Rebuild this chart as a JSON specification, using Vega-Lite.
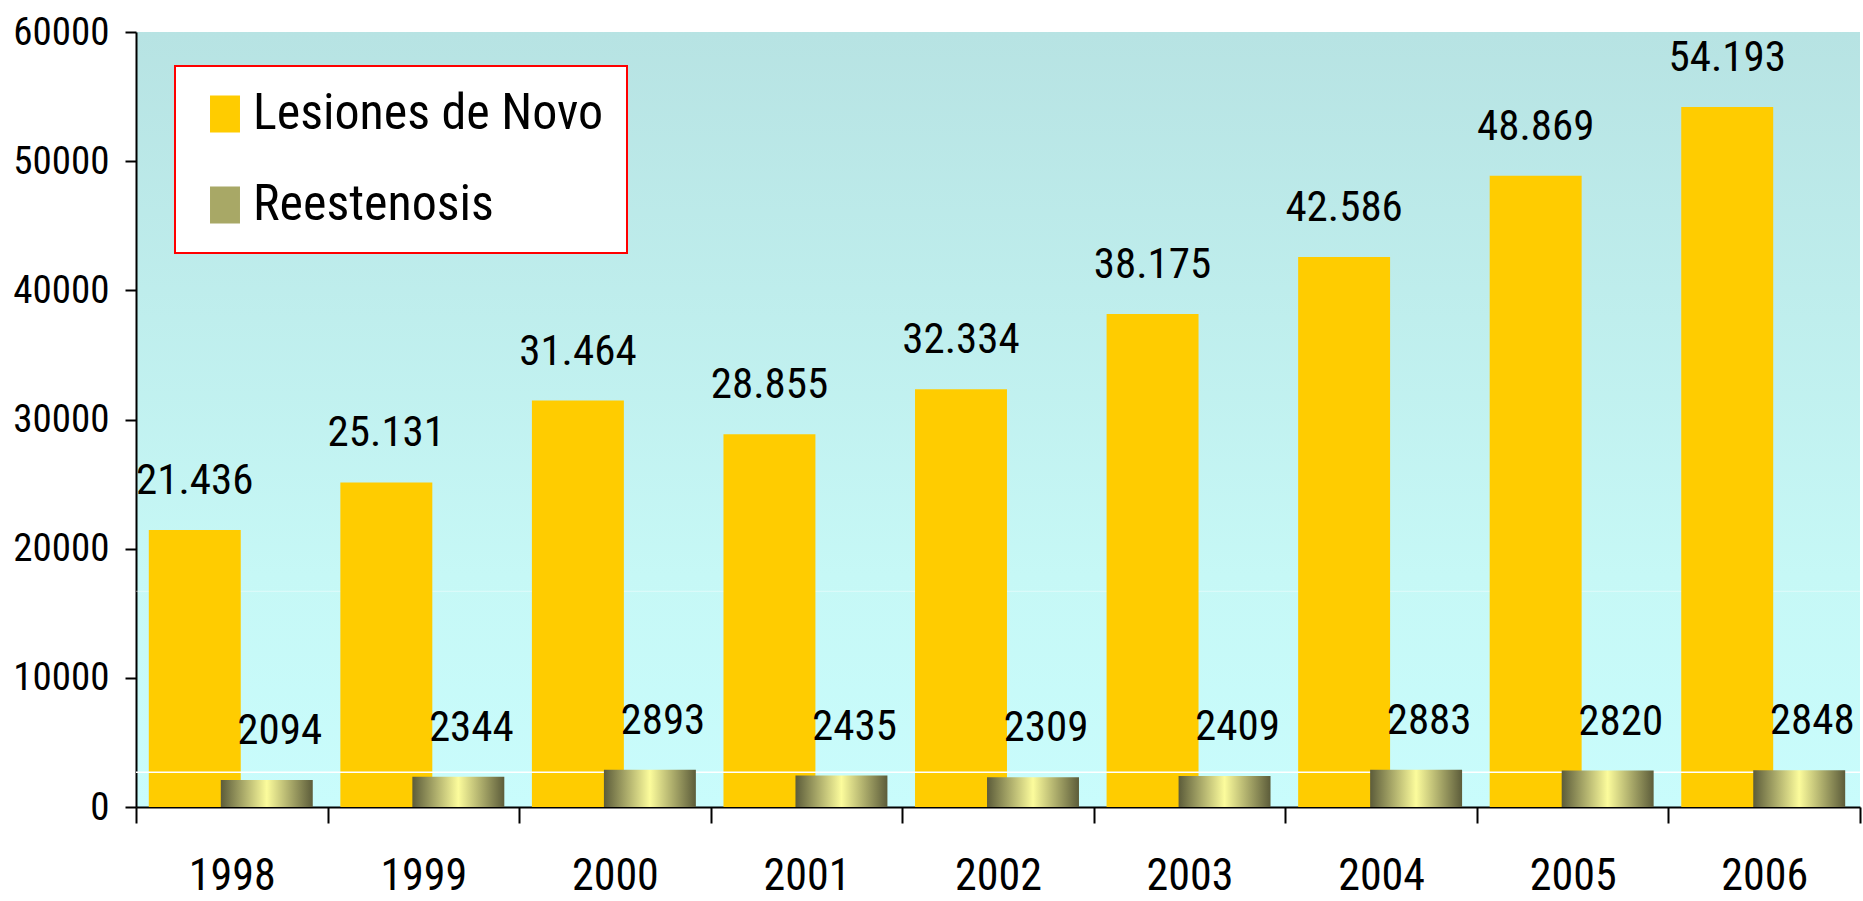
{
  "$schema": "https://vega.github.io/schema/vega-lite/v6.json",
  "width": 1724,
  "height": 775,
  "autosize": {"type": "none"},
  "padding": {"left": 136, "top": 32, "right": 3, "bottom": 94},
  "background": "white",
  "config": {
    "font": "Roboto Condensed, DejaVu Sans Condensed, sans-serif",
    "locale": {"number": {"decimal": ",", "thousands": ".", "grouping": [3], "currency": ["", " €"]}},
    "view": {
      "stroke": null,
      "fill": {
        "gradient": "linear", "x1": 0, "y1": 0, "x2": 0, "y2": 1,
        "stops": [
          {"offset": 0, "color": "#b7e3e3"},
          {"offset": 0.7, "color": "#c6f8f6"},
          {"offset": 1, "color": "#c9fcfc"}
        ]
      }
    }
  },
  "data": {
    "values": [
      {"year": "1998", "series": "Lesiones de Novo", "value": 21436},
      {"year": "1999", "series": "Lesiones de Novo", "value": 25131},
      {"year": "2000", "series": "Lesiones de Novo", "value": 31464},
      {"year": "2001", "series": "Lesiones de Novo", "value": 28855},
      {"year": "2002", "series": "Lesiones de Novo", "value": 32334},
      {"year": "2003", "series": "Lesiones de Novo", "value": 38175},
      {"year": "2004", "series": "Lesiones de Novo", "value": 42586},
      {"year": "2005", "series": "Lesiones de Novo", "value": 48869},
      {"year": "2006", "series": "Lesiones de Novo", "value": 54193},
      {"year": "1998", "series": "Reestenosis", "value": 2094},
      {"year": "1999", "series": "Reestenosis", "value": 2344},
      {"year": "2000", "series": "Reestenosis", "value": 2893},
      {"year": "2001", "series": "Reestenosis", "value": 2435},
      {"year": "2002", "series": "Reestenosis", "value": 2309},
      {"year": "2003", "series": "Reestenosis", "value": 2409},
      {"year": "2004", "series": "Reestenosis", "value": 2883},
      {"year": "2005", "series": "Reestenosis", "value": 2820},
      {"year": "2006", "series": "Reestenosis", "value": 2848}
    ]
  },
  "layer": [
    {
      "data": {"values": [{"line": 16700}]},
      "mark": {"type": "rule", "color": "#ffffff", "strokeWidth": 1, "opacity": 0.45},
      "encoding": {"y": {"field": "line", "type": "quantitative"}}
    },
    {
      "transform": [{"filter": "datum.series === 'Lesiones de Novo'"}],
      "mark": {"type": "bar", "width": {"band": 0.48}, "xOffset": -37},
      "encoding": {
        "x": {
          "field": "year", "type": "nominal",
          "scale": {"paddingInner": 0, "paddingOuter": 0},
          "axis": {
            "title": null, "labelAngle": 0, "tickBand": "extent",
            "domainColor": "black", "domainWidth": 2,
            "tickColor": "black", "tickWidth": 2, "tickSize": 16,
            "labelFontSize": 44, "labelColor": "black", "labelPadding": 31
          }
        },
        "y": {
          "field": "value", "type": "quantitative",
          "scale": {"domain": [0, 60000], "nice": false},
          "axis": {
            "title": null, "values": [0, 10000, 20000, 30000, 40000, 50000, 60000], "format": "d", "grid": false,
            "domainColor": "black", "domainWidth": 2,
            "tickColor": "black", "tickWidth": 2, "tickSize": 11,
            "labelFontSize": 39, "labelColor": "black", "labelPadding": 16
          }
        },
        "color": {
          "field": "series", "type": "nominal",
          "scale": {"domain": ["Lesiones de Novo", "Reestenosis"], "range": ["#FFCC00", "#a8a866"]},
          "legend": {
            "title": null, "orient": "none", "legendX": 39, "legendY": 34,
            "padding": 23, "fillColor": "#ffffff", "strokeColor": "#ff0000",
            "symbolType": "M-0.81,-1H0.81V1H-0.81Z", "symbolSize": 1369, "symbolStrokeWidth": 0,
            "symbolOffset": 2, "labelOffset": 3, "labelFontSize": 50, "labelColor": "black",
            "rowPadding": 41, "labelLimit": 600,
            "encode": {
              "legend": {"update": {"strokeWidth": {"value": 2}}},
              "symbols": {
                "update": {
                  "fill": {
                    "condition": {
                      "test": "datum.value === 'Reestenosis'",
                      "value": {"gradient": "linear", "x1": 0, "y1": 0, "x2": 1, "y2": 0, "stops": [{"offset": 0, "color": "#5c5c3a"}, {"offset": 0.5, "color": "#fcfc9c"}, {"offset": 1, "color": "#5c5c3a"}]}
                    },
                    "value": "#FFCC00"
                  }
                }
              }
            }
          }
        }
      }
    },
    {
      "data": {"values": [{"line": 2700}]},
      "mark": {"type": "rule", "color": "#ffffff", "strokeWidth": 1.5},
      "encoding": {"y": {"field": "line", "type": "quantitative"}}
    },
    {
      "transform": [{"filter": "datum.series === 'Reestenosis'"}],
      "mark": {
        "type": "bar", "width": {"band": 0.48}, "xOffset": 35,
        "color": {"gradient": "linear", "x1": 0, "y1": 0, "x2": 1, "y2": 0, "stops": [{"offset": 0, "color": "#5c5c3a"}, {"offset": 0.5, "color": "#fcfc9c"}, {"offset": 1, "color": "#5c5c3a"}]}
      },
      "encoding": {
        "x": {"field": "year", "type": "nominal"},
        "y": {"field": "value", "type": "quantitative"}
      }
    },
    {
      "transform": [{"filter": "datum.series === 'Lesiones de Novo'"}],
      "mark": {"type": "text", "dy": -36, "dx": -37, "baseline": "alphabetic", "align": "center", "fontSize": 43, "color": "black"},
      "encoding": {
        "x": {"field": "year", "type": "nominal"},
        "y": {"field": "value", "type": "quantitative"},
        "text": {"field": "value", "type": "quantitative", "format": ",d"}
      }
    },
    {
      "transform": [{"filter": "datum.series === 'Reestenosis'"}],
      "mark": {"type": "text", "dy": -36, "dx": 48, "baseline": "alphabetic", "align": "center", "fontSize": 43, "color": "black"},
      "encoding": {
        "x": {"field": "year", "type": "nominal"},
        "y": {"field": "value", "type": "quantitative"},
        "text": {"field": "value", "type": "quantitative", "format": "d"}
      }
    }
  ]
}
